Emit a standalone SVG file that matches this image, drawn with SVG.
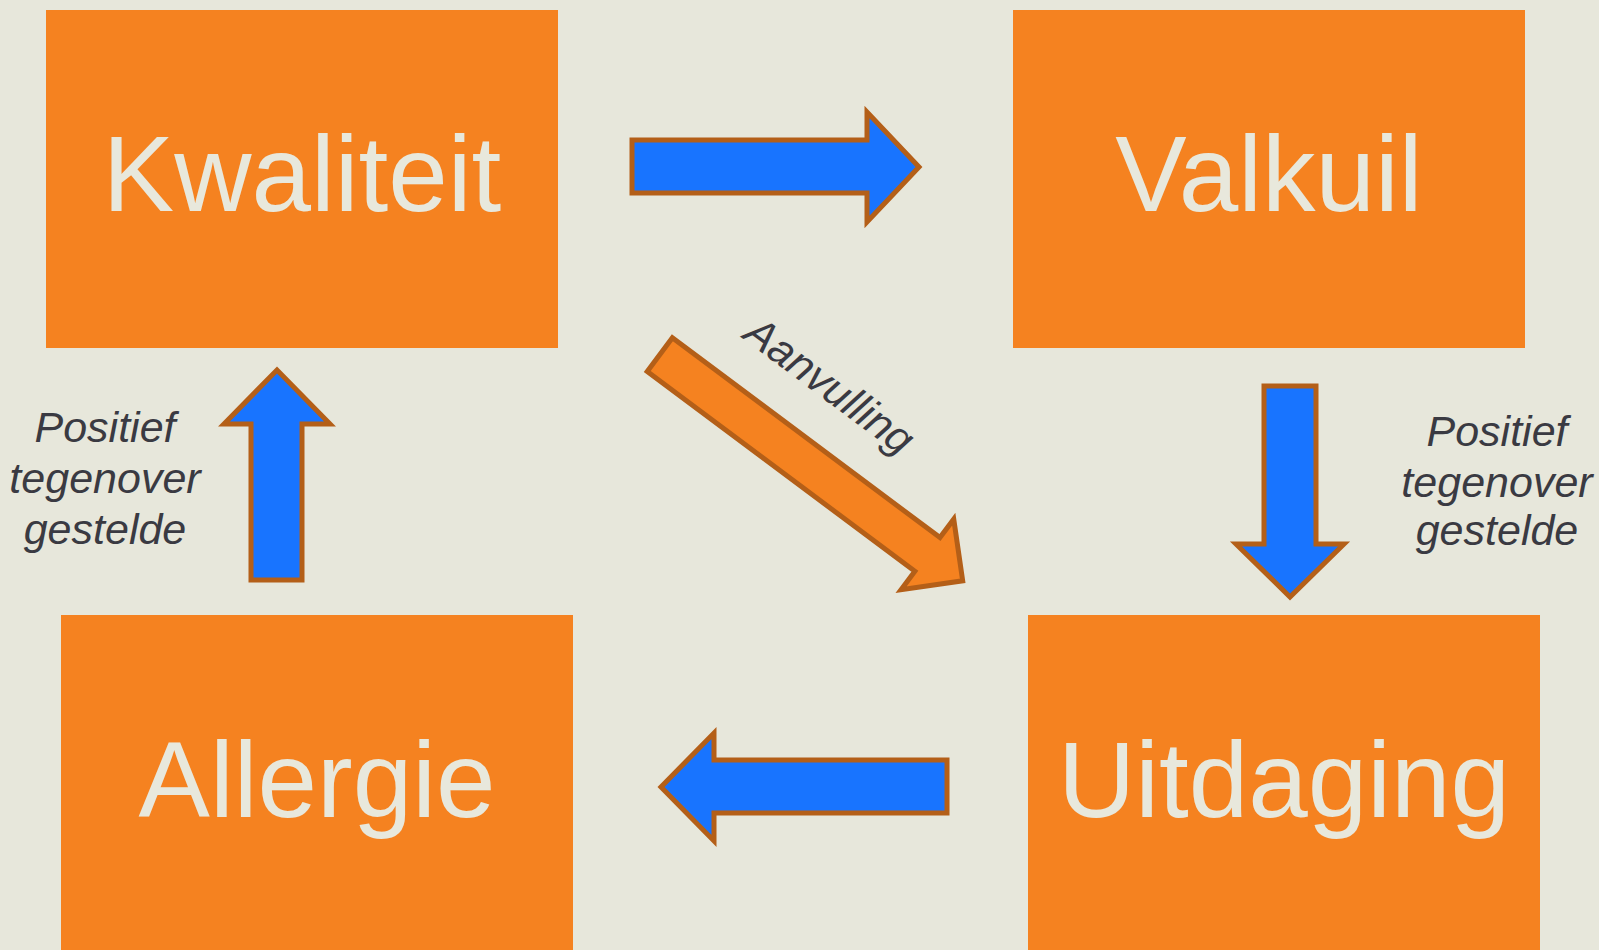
<svg xmlns="http://www.w3.org/2000/svg" width="1599" height="950" viewBox="0 0 1599 950">
<style>
.box{fill:#F58220;}
.big{font-family:"Liberation Sans",Arial,sans-serif;font-size:107px;fill:#E8E8DC;text-anchor:middle;}
.lbl{font-family:"Liberation Sans",Arial,sans-serif;font-size:43px;font-style:italic;fill:#3A3A42;text-anchor:middle;}
.blue{fill:#1874FF;stroke:#B45F18;stroke-width:5;stroke-linejoin:miter;}
.orange{fill:#F58220;stroke:#B45F18;stroke-width:5;stroke-linejoin:miter;}
</style>
<rect width="1599" height="950" fill="#E7E7DB"/>
<g id="kwaliteit">
<rect class="box" x="46" y="10" width="512" height="338"/>
<text class="big" x="302" y="211">Kwaliteit</text>
</g>
<g id="valkuil">
<rect class="box" x="1013" y="10" width="512" height="338"/>
<text class="big" x="1269" y="211">Valkuil</text>
</g>
<g id="allergie">
<rect class="box" x="61" y="615" width="512" height="340"/>
<text class="big" x="317" y="817">Allergie</text>
</g>
<g id="uitdaging">
<rect class="box" x="1028" y="615" width="512" height="340"/>
<text class="big" x="1284" y="817">Uitdaging</text>
</g>
<g id="connectors">
<polygon class="blue" points="632,140 867,140 867,112 919,167 867,222 867,193 632,193"/>
<polygon class="blue" points="1264,386 1316,386 1316,544 1344,544 1290,597 1236,544 1264,544"/>
<polygon class="blue" points="947,760 714,760 714,733 661,787 714,841 714,813 947,813"/>
<polygon class="blue" points="251,580 251,424 224,424 277,370 330,424 302,424 302,580"/>
<polygon class="orange" transform="translate(659,354) rotate(36.75)" points="1,-21 335,-21 335,-44 379,0 335,44 335,21 1,21"/>
<text class="lbl" transform="translate(821,397) rotate(36.75)" x="0" y="0">Aanvulling</text>
<text class="lbl" x="105" y="442">Positief</text>
<text class="lbl" x="105" y="493">tegenover</text>
<text class="lbl" x="105" y="544">gestelde</text>
<text class="lbl" x="1497" y="446">Positief</text>
<text class="lbl" x="1497" y="497">tegenover</text>
<text class="lbl" x="1497" y="545">gestelde</text>
</g>
</svg>
